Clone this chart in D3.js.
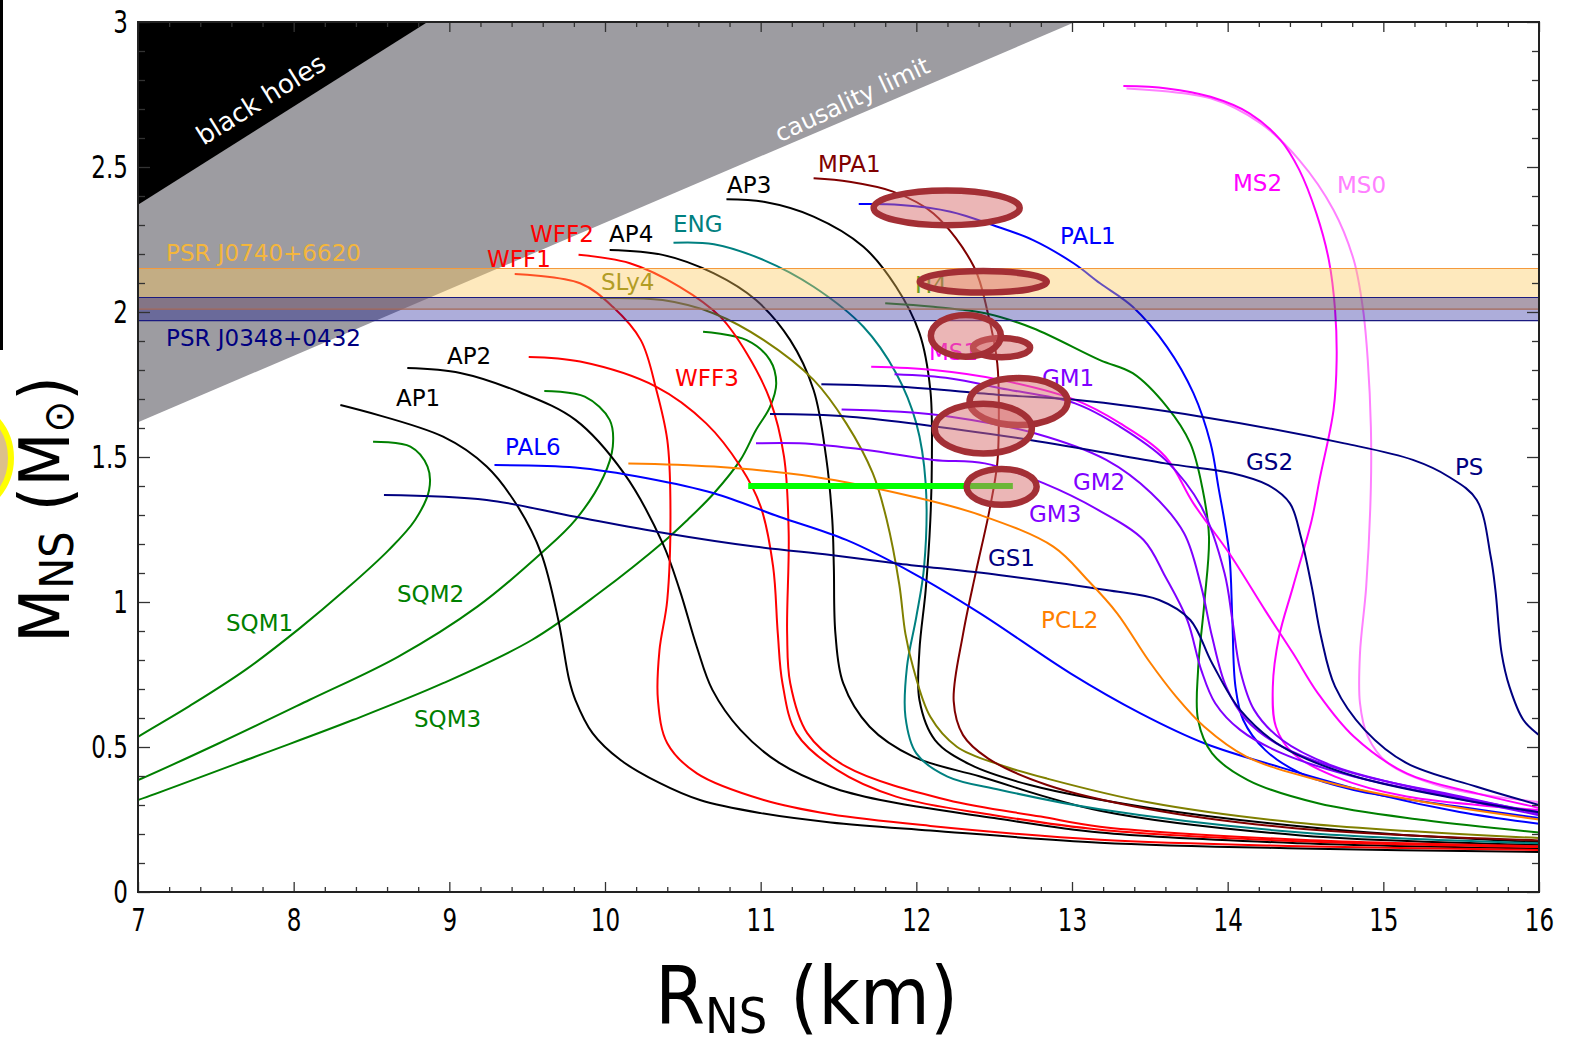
<!DOCTYPE html>
<html>
<head>
<meta charset="utf-8">
<script src="https://cdn.jsdelivr.net/npm/d3@7"></script>
<style>
  body { margin: 0; background: #fff; }
  svg { display: block; }
  .lbl { font-family: "DejaVu Sans", sans-serif; font-size: 23px; }
  .tick text { font-family: "DejaVu Sans", sans-serif; font-size: 32px; fill: #000; }
  .title { font-family: "DejaVu Sans Condensed", "DejaVu Sans", sans-serif; font-stretch: condensed; fill: #000; }
</style>
</head>
<body>
<svg id="chart" width="1572" height="1045"></svg>
<script>
// mass-radius curves, [R (km), M (Msun)], from the top end down to the low-mass tail
const SQM1 = [[8.51,1.553],[8.75,1.536],[8.86,1.467],[8.87,1.386],[8.78,1.283],[8.61,1.179],[8.33,1.041],[8.04,0.910],[7.69,0.766],[7.33,0.641],[7.0,0.535],[6.9,0.50]];
const SQM2 = [[9.61,1.728],[9.87,1.708],[10.03,1.628],[10.05,1.536],[9.99,1.432],[9.81,1.283],[9.59,1.168],[9.18,0.984],[8.67,0.811],[8.10,0.662],[7.52,0.513],[7.0,0.386],[6.9,0.365]];
const SQM3 = [[10.63,1.932],[10.91,1.903],[11.06,1.834],[11.10,1.754],[11.06,1.673],[10.97,1.593],[10.87,1.490],[10.70,1.375],[10.53,1.283],[10.39,1.214],[9.96,1.030],[9.53,0.869],[8.96,0.720],[8.38,0.593],[7.81,0.478],[7.0,0.317],[6.9,0.30]];
const AP1 = [[8.30,1.679],[8.96,1.570],[9.24,1.467],[9.44,1.329],[9.59,1.168],[9.70,0.938],[9.77,0.731],[9.81,0.662],[9.92,0.548],[10.10,0.455],[10.35,0.376],[10.61,0.317],[11.0,0.272],[11.45,0.24],[12.09,0.212],[13.18,0.17],[14.47,0.150],[16,0.138]];
const AP2 = [[8.73,1.807],[9.07,1.790],[9.45,1.724],[9.81,1.628],[10.12,1.445],[10.37,1.203],[10.48,1.041],[10.59,0.845],[10.69,0.697],[10.87,0.559],[11.12,0.445],[11.45,0.362],[11.77,0.317],[12.5,0.255],[13.18,0.205],[14.47,0.168],[16,0.150]];
const AP3 = [[10.78,2.389],[11.02,2.380],[11.34,2.329],[11.66,2.225],[11.87,2.087],[12.02,1.927],[12.09,1.731],[12.10,1.501],[12.09,1.283],[12.06,1.041],[12.02,0.834],[12.02,0.662],[12.12,0.524],[12.35,0.438],[12.73,0.369],[13.50,0.29],[14.79,0.21],[16,0.172]];
const AP4 = [[10.03,2.214],[10.37,2.197],[10.70,2.133],[10.97,2.041],[11.19,1.903],[11.34,1.731],[11.42,1.501],[11.46,1.283],[11.47,1.122],[11.48,0.892],[11.53,0.720],[11.70,0.570],[11.98,0.467],[12.41,0.398],[13.18,0.28],[14.47,0.195],[16,0.163]];
const WFF1 = [[9.42,2.131],[9.84,2.099],[10.05,2.018],[10.23,1.903],[10.33,1.731],[10.40,1.559],[10.42,1.352],[10.40,1.007],[10.35,0.834],[10.34,0.662],[10.40,0.513],[10.59,0.409],[11.02,0.317],[11.45,0.268],[12.09,0.228],[13.18,0.18],[14.47,0.158],[16,0.145]];
const WFF2 = [[9.83,2.197],[10.16,2.168],[10.48,2.087],[10.74,1.984],[10.91,1.858],[11.06,1.697],[11.15,1.501],[11.18,1.237],[11.17,0.892],[11.19,0.720],[11.30,0.547],[11.55,0.432],[12.2,0.317],[12.8,0.26],[13.18,0.225],[14.47,0.18],[16,0.158]];
const WFF3 = [[9.51,1.845],[9.84,1.829],[10.33,1.742],[10.65,1.616],[10.87,1.467],[11.00,1.329],[11.08,1.122],[11.11,0.892],[11.14,0.720],[11.23,0.547],[11.49,0.421],[11.87,0.329],[12.5,0.265],[13.18,0.215],[14.47,0.175],[16,0.155]];
const ENG = [[10.44,2.239],[10.70,2.234],[11.02,2.179],[11.34,2.087],[11.66,1.949],[11.87,1.789],[12.00,1.616],[12.06,1.409],[12.05,1.122],[12.00,0.949],[11.94,0.777],[11.93,0.604],[12.00,0.478],[12.20,0.398],[12.54,0.352],[13.18,0.285],[14.47,0.205],[16,0.168]];
const SLy4 = [[9.97,2.048],[10.37,2.041],[10.70,1.995],[11.02,1.903],[11.34,1.766],[11.55,1.616],[11.72,1.444],[11.81,1.283],[11.89,1.062],[11.93,0.890],[11.98,0.773],[12.09,0.604],[12.26,0.501],[12.54,0.438],[12.84,0.391],[13.48,0.31],[14.43,0.24],[16,0.186]];
const MPA1 = [[11.34,2.461],[11.57,2.449],[11.85,2.415],[12.11,2.340],[12.37,2.156],[12.46,1.995],[12.52,1.823],[12.53,1.651],[12.52,1.478],[12.47,1.317],[12.38,1.097],[12.30,0.889],[12.24,0.658],[12.30,0.541],[12.46,0.461],[12.84,0.369],[13.48,0.287],[14.43,0.22],[16,0.178]];
const PAL1 = [[11.63,2.372],[11.90,2.369],[12.22,2.346],[12.49,2.300],[12.75,2.248],[13.01,2.168],[13.18,2.099],[13.39,2.018],[13.61,1.880],[13.78,1.720],[13.89,1.547],[13.94,1.398],[14.01,1.168],[14.03,0.938],[14.05,0.708],[14.10,0.593],[14.24,0.490],[14.47,0.409],[14.81,0.352],[15.49,0.294],[16.0,0.255]];
const PAL6 = [[9.29,1.472],[9.81,1.464],[10.27,1.427],[10.70,1.375],[11.12,1.294],[11.55,1.214],[11.98,1.099],[12.41,0.961],[12.99,0.754],[13.44,0.616],[13.85,0.513],[14.35,0.428],[14.98,0.334],[15.49,0.276],[16.0,0.235]];
const H4 = [[11.80,2.030],[12.11,2.018],[12.45,1.995],[12.75,1.944],[13.18,1.834],[13.39,1.789],[13.61,1.673],[13.76,1.547],[13.84,1.386],[13.88,1.225],[13.85,0.996],[13.81,0.766],[13.81,0.593],[13.90,0.478],[14.13,0.386],[14.58,0.306],[15.26,0.248],[16.0,0.205]];
const MS0 = [[13.35,2.771],[13.89,2.737],[14.21,2.651],[14.46,2.524],[14.68,2.352],[14.81,2.179],[14.87,2.007],[14.90,1.834],[14.92,1.604],[14.92,1.398],[14.89,1.053],[14.85,0.823],[14.85,0.651],[14.90,0.536],[15.03,0.444],[15.38,0.363],[16.0,0.310]];
const MS1 = [[11.71,1.811],[12.11,1.800],[12.54,1.766],[13.02,1.697],[13.31,1.616],[13.60,1.501],[13.78,1.340],[14.01,1.168],[14.24,0.972],[14.42,0.823],[14.58,0.685],[14.81,0.536],[15.15,0.409],[15.60,0.340],[16.0,0.29]];
const MS2 = [[13.33,2.779],[13.61,2.771],[13.89,2.742],[14.14,2.685],[14.34,2.593],[14.46,2.490],[14.57,2.340],[14.65,2.179],[14.69,2.007],[14.70,1.834],[14.68,1.662],[14.59,1.421],[14.54,1.283],[14.42,1.053],[14.33,0.880],[14.29,0.708],[14.31,0.570],[14.42,0.478],[14.69,0.398],[15.15,0.329],[16.0,0.283]];
const GM1 = [[11.86,1.785],[12.22,1.771],[12.54,1.737],[13.02,1.685],[13.31,1.604],[13.60,1.490],[13.83,1.329],[13.98,1.099],[14.03,0.938],[14.08,0.766],[14.17,0.628],[14.35,0.524],[14.69,0.432],[15.26,0.352],[16.0,0.275]];
const GM2 = [[11.52,1.664],[11.90,1.656],[12.22,1.639],[12.76,1.582],[13.22,1.490],[13.51,1.375],[13.72,1.237],[13.83,1.053],[13.90,0.880],[13.99,0.708],[14.12,0.593],[14.35,0.501],[14.81,0.409],[15.49,0.330],[16.0,0.27]];
const GM3 = [[10.97,1.547],[11.25,1.547],[11.68,1.524],[12.11,1.490],[12.44,1.478],[12.82,1.409],[13.17,1.317],[13.46,1.214],[13.60,1.087],[13.74,0.938],[13.83,0.766],[13.92,0.651],[14.08,0.559],[14.35,0.478],[14.81,0.398],[15.5,0.32],[16.0,0.265]];
const GS1 = [[8.58,1.369],[9.24,1.352],[9.81,1.294],[10.39,1.237],[10.96,1.191],[11.45,1.162],[11.89,1.132],[12.53,1.093],[13.22,1.041],[13.56,1.007],[13.76,0.938],[13.90,0.789],[14.08,0.628],[14.35,0.501],[14.81,0.40],[15.49,0.32],[16.0,0.275]];
const GS2 = [[11.06,1.648],[11.57,1.639],[12.73,1.559],[13.60,1.478],[14.03,1.444],[14.26,1.403],[14.40,1.340],[14.47,1.225],[14.54,1.053],[14.60,0.880],[14.69,0.708],[14.88,0.559],[15.15,0.444],[15.60,0.363],[16.0,0.30]];
const PS = [[11.39,1.751],[11.90,1.742],[12.54,1.714],[13.02,1.697],[13.83,1.639],[14.75,1.547],[15.19,1.490],[15.42,1.432],[15.60,1.352],[15.69,1.156],[15.72,1.041],[15.76,0.823],[15.81,0.708],[15.90,0.593],[16.0,0.541],[16.1,0.50]];
const PCL2 = [[10.15,1.478],[10.70,1.467],[11.34,1.432],[11.98,1.363],[12.41,1.300],[12.88,1.191],[13.10,1.076],[13.29,0.961],[13.49,0.800],[13.67,0.673],[13.85,0.570],[14.12,0.467],[14.58,0.386],[15.26,0.310],[16.0,0.25]];

const curves = { SQM1, SQM2, SQM3, AP1, AP2, AP3, AP4, WFF1, WFF2, WFF3, ENG, SLy4, MPA1,
  PAL1, PAL6, H4, MS0, MS1, MS2, GM1, GM2, GM3, GS1, GS2, PS, PCL2 };

// limits: [R, M] corners of the excluded regions
const blackHoleEdge = [[7, 2.37], [8.86, 3.0], [7, 3.0]];
const causalityEdge = [[7, 1.62], [13.02, 3.0], [7, 3.0]];

// pulsar mass bands [low, high]
const bandJ0740 = [2.01, 2.15];
const bandJ0348 = [1.97, 2.05];

// measured constraints: [R, M, halfwidth R, halfwidth M]
const ellipses = [[12.195,2.359,0.469,0.060],[12.43,2.104,0.408,0.037],[12.548,1.877,0.183,0.033],
  [12.318,1.918,0.225,0.072],[12.657,1.691,0.315,0.081],[12.43,1.598,0.312,0.086],[12.548,1.397,0.225,0.062]];
const greenBar = [[10.92, 1.40], [12.62, 1.40]];

const xTicks = d3.range(7, 17, 1);
const yTicks = [0, 0.5, 1, 1.5, 2, 2.5, 3];

const colors = {
  SQM1: "#008000", SQM2: "#008000", SQM3: "#008000", H4: "#008000",
  AP1: "#000000", AP2: "#000000", AP3: "#000000", AP4: "#000000",
  WFF1: "#ff0000", WFF2: "#ff0000", WFF3: "#ff0000",
  ENG: "#008080", SLy4: "#808000", MPA1: "#800000",
  PAL1: "#0000ff", PAL6: "#0000ff",
  MS0: "#ff80ff", MS1: "#ff00ff", MS2: "#ff00ff",
  GM1: "#8000ff", GM2: "#8000ff", GM3: "#8000ff",
  GS1: "#000080", GS2: "#000080", PS: "#000080", PCL2: "#ff8000"
};

// label anchors (left, baseline) in data units
const labelAt = [
  ["MPA1", 11.368, 2.483], ["AP3", 10.784, 2.410], ["WFF2", 9.518, 2.241], ["AP4", 10.026, 2.241],
  ["ENG", 10.437, 2.276], ["WFF1", 9.242, 2.155], ["SLy4", 9.974, 2.076], ["PAL1", 12.923, 2.234],
  ["MS2", 14.034, 2.417], ["MS0", 14.702, 2.410], ["H4", 11.991, 2.066], ["MS1", 12.081, 1.834],
  ["GM1", 12.807, 1.745], ["AP2", 8.985, 1.821], ["AP1", 8.657, 1.676], ["WFF3", 10.450, 1.745],
  ["PAL6", 9.358, 1.507], ["GS2", 14.118, 1.455], ["PS", 15.460, 1.438], ["GM2", 13.006, 1.386],
  ["GM3", 12.724, 1.276], ["GS1", 12.460, 1.124], ["PCL2", 12.801, 0.910], ["SQM1", 7.565, 0.900],
  ["SQM2", 8.664, 1.000], ["SQM3", 8.773, 0.569]
];

const svg = d3.select("#chart");
const x = d3.scaleLinear().domain([7, 16]).range([138, 1539]);
const y = d3.scaleLinear().domain([0, 3]).range([892, 22]);

// stray bits of the neighbouring panel at the left edge
svg.append("rect").attr("x", 0).attr("y", 0).attr("width", 3).attr("height", 350).attr("fill", "#000");
svg.append("circle").attr("cx", -47).attr("cy", 458).attr("r", 58)
  .attr("fill", "#dcc08a").attr("stroke", "#ffff00").attr("stroke-width", 6);

svg.append("clipPath").attr("id", "plotClip").append("rect")
  .attr("x", x(7)).attr("y", y(3)).attr("width", x(16) - x(7)).attr("height", y(0) - y(3));
const plot = svg.append("g").attr("clip-path", "url(#plotClip)");

const poly = d3.line().x(d => x(d[0])).y(d => y(d[1]));
plot.append("path").attr("d", poly(causalityEdge) + "Z").attr("fill", "#9d9ca1");
plot.append("path").attr("d", poly(blackHoleEdge) + "Z").attr("fill", "#000");

plot.append("text").attr("class", "lbl")
  .attr("transform", `translate(${x(7.82)},${y(2.707)}) rotate(-32)`)
  .attr("text-anchor", "middle").style("font-size", "26px")
  .attr("fill", "#fff").text("black holes");
plot.append("text").attr("class", "lbl")
  .attr("transform", `translate(${x(11.61)},${y(2.707)}) rotate(-25)`)
  .attr("text-anchor", "middle").style("font-size", "24px")
  .attr("fill", "#fff").text("causality limit");

const line = d3.line().x(d => x(d[0])).y(d => y(d[1])).curve(d3.curveCatmullRom.alpha(0.5));
plot.selectAll("path.eos")
  .data(Object.keys(curves))
  .join("path")
  .attr("class", "eos")
  .attr("d", k => line(curves[k]))
  .attr("fill", "none")
  .attr("stroke", k => colors[k])
  .attr("stroke-width", 2);

plot.selectAll("text.eosLabel")
  .data(labelAt)
  .join("text")
  .attr("class", "lbl eosLabel")
  .attr("x", d => x(d[1]))
  .attr("y", d => y(d[2]))
  .attr("fill", d => colors[d[0]])
  .text(d => d[0]);

plot.append("text").attr("class", "lbl").attr("x", x(7.18)).attr("y", y(2.176))
  .attr("fill", "#f4b63c").text("PSR J0740+6620");
plot.append("text").attr("class", "lbl").attr("x", x(7.18)).attr("y", y(1.883))
  .attr("fill", "#000080").text("PSR J0348+0432");

// pulsar bands
function band(b, fill, op, stroke) {
  plot.append("rect").attr("x", x(7)).attr("width", x(16) - x(7))
    .attr("y", y(b[1])).attr("height", y(b[0]) - y(b[1]))
    .attr("fill", fill).attr("fill-opacity", op);
  [b[0], b[1]].forEach(v => plot.append("line")
    .attr("x1", x(7)).attr("x2", x(16)).attr("y1", y(v)).attr("y2", y(v))
    .attr("stroke", stroke).attr("stroke-width", 1.2));
}
band(bandJ0740, "#fcc85a", 0.4, "#f59a3c");
band(bandJ0348, "#00008c", 0.32, "#1a1a80");

plot.append("path").attr("d", poly(greenBar))
  .attr("stroke", "#00ff00").attr("stroke-width", 6).attr("fill", "none");

plot.selectAll("ellipse")
  .data(ellipses)
  .join("ellipse")
  .attr("cx", d => x(d[0]))
  .attr("cy", d => y(d[1]))
  .attr("rx", d => x(d[0] + d[2]) - x(d[0]))
  .attr("ry", d => y(d[1] - d[3]) - y(d[1]))
  .attr("fill", "#d76e6e").attr("fill-opacity", 0.5)
  .attr("stroke", "#a32f35").attr("stroke-width", 6.5);

// frame and ticks, mirrored on all four sides
const xMinor = d3.range(7, 16.001, 0.2).filter(v => Math.abs(v - Math.round(v)) > 0.01);
const yMinor = d3.range(0, 3.001, 0.1).filter(v => Math.abs(v * 2 - Math.round(v * 2)) > 0.01);
const clean = g => g.select(".domain").remove();
const narrow = g => g.selectAll(".tick text").attr("transform", "scale(0.72,1)");

svg.append("g").attr("transform", `translate(0,${y(0)})`)
  .call(d3.axisBottom(x).tickValues(xTicks).tickSize(-10).tickPadding(16).tickFormat(d3.format("d")))
  .call(clean).call(narrow);
svg.append("g").attr("transform", `translate(0,${y(0)})`)
  .call(d3.axisBottom(x).tickValues(xMinor).tickSize(-5).tickFormat("")).call(clean);
svg.append("g").attr("transform", `translate(0,${y(3)})`)
  .call(d3.axisTop(x).tickValues(xTicks).tickSize(-10).tickFormat("")).call(clean);
svg.append("g").attr("transform", `translate(0,${y(3)})`)
  .call(d3.axisTop(x).tickValues(xMinor).tickSize(-5).tickFormat("")).call(clean);
svg.append("g").attr("transform", `translate(${x(7)},0)`)
  .call(d3.axisLeft(y).tickValues(yTicks).tickSize(-12).tickPadding(14).tickFormat(d => d))
  .call(clean).call(narrow);
svg.append("g").attr("transform", `translate(${x(7)},0)`)
  .call(d3.axisLeft(y).tickValues(yMinor).tickSize(-7).tickFormat("")).call(clean);
svg.append("g").attr("transform", `translate(${x(16)},0)`)
  .call(d3.axisRight(y).tickValues(yTicks).tickSize(-12).tickFormat("")).call(clean);
svg.append("g").attr("transform", `translate(${x(16)},0)`)
  .call(d3.axisRight(y).tickValues(yMinor).tickSize(-7).tickFormat("")).call(clean);
svg.selectAll(".tick line").attr("stroke", "#333").attr("stroke-width", 1.3);

svg.append("rect").attr("x", x(7)).attr("y", y(3))
  .attr("width", x(16) - x(7)).attr("height", y(0) - y(3))
  .attr("fill", "none").attr("stroke", "#222").attr("stroke-width", 2);

// axis titles
const xt = svg.append("text").attr("class", "title").attr("x", 655).attr("y", 1024).style("font-size", "80px");
xt.append("tspan").text("R");
xt.append("tspan").attr("dy", 9).style("font-size", "50px").text("NS");
xt.append("tspan").attr("dy", -9).text(" (km)");

const yt = svg.append("text").attr("class", "title")
  .attr("transform", "translate(69,643) rotate(-90)").style("font-size", "70px");
yt.append("tspan").text("M");
yt.append("tspan").attr("dy", 4).style("font-size", "46px").text("NS");
yt.append("tspan").attr("dy", -4).text(" (M");
yt.append("tspan").attr("dy", 4).style("font-size", "42px").text("\u2299");
yt.append("tspan").attr("dy", -4).text(")");
</script>
</body>
</html>
